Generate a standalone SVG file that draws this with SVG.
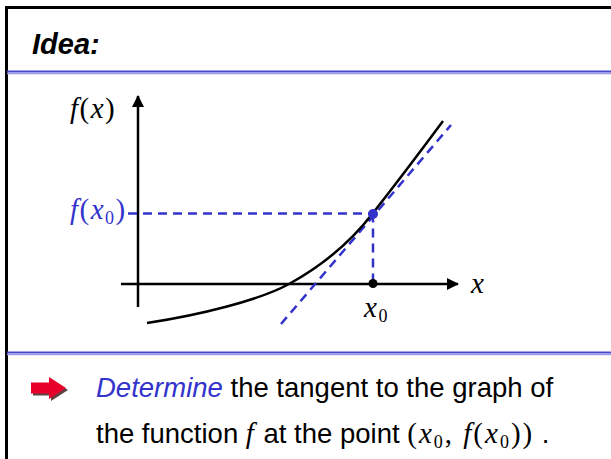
<svg xmlns="http://www.w3.org/2000/svg" width="611" height="459" viewBox="0 0 611 459">
<defs>
<style>
.frame{stroke:#000;stroke-width:3;fill:none}
.sep1{stroke:#4848cc;stroke-width:2}
.sep2{stroke:#9a9ae6;stroke-width:1.5}
.axis{stroke:#000;stroke-width:2.5;fill:none}
.dash{stroke:#3333cc;stroke-width:2.5;stroke-dasharray:9,6;fill:none}
.curve{stroke:#000;stroke-width:2.5;fill:none}
.math{font-family:"Liberation Serif",serif;font-style:italic;font-size:29px;letter-spacing:1.5px}
.m2{font-family:"Liberation Serif",serif;font-style:italic;font-size:29px;letter-spacing:2px}
.sub{font-family:"Liberation Serif",serif;font-style:normal;font-size:18px}
.up{font-style:normal}
.txt{font-family:"Liberation Sans",Arial,sans-serif;font-size:27.5px;fill:#000}
</style>
<marker id="ah" markerWidth="12" markerHeight="12" refX="11" refY="6" orient="auto" markerUnits="userSpaceOnUse">
<path d="M0,0 L12,6 L0,12 Z" fill="#000"/>
</marker>
</defs>
<rect width="611" height="459" fill="#fff"/>
<g id="frame">
<path class="frame" d="M6.5,459 V7.5 H611"/>
<line class="sep1" x1="7" y1="71.5" x2="611" y2="71.5"/>
<line class="sep2" x1="7" y1="73.5" x2="611" y2="73.5"/>
<line class="sep1" x1="7" y1="352.5" x2="611" y2="352.5"/>
<line class="sep2" x1="7" y1="354.5" x2="611" y2="354.5"/>
</g>
<g id="title">
<text x="32" y="54" font-family="Liberation Sans,Arial,sans-serif" font-weight="bold" font-style="italic" font-size="29" fill="#000">Idea:</text>
</g>
<g id="connectors">
<line class="axis" x1="138" y1="307" x2="138" y2="96" marker-end="url(#ah)"/>
<line class="axis" x1="121" y1="284" x2="458" y2="284" marker-end="url(#ah)"/>
<line class="dash" x1="128" y1="213.5" x2="373" y2="213.5"/>
<line class="dash" x1="373" y1="213.5" x2="373" y2="284"/>
<line class="dash" x1="281" y1="324" x2="451" y2="125"/>
<path class="curve" d="M147,323 C200,315 260,300 289,284 C320,267 350,243 373,213 C395,185 420,152 443,121"/>
</g>
<g id="points">
<circle cx="373" cy="214" r="5" fill="#3333cc"/>
<circle cx="373" cy="283.5" r="4.5" fill="#000"/>
</g>
<g id="labels">
<text class="math" x="70" y="118">f<tspan class="up">(</tspan>x<tspan class="up">)</tspan></text>
<text class="math" x="70" y="219" fill="#3333cc">f<tspan class="up">(</tspan>x<tspan class="sub" dy="5">0</tspan><tspan class="up" dy="-5">)</tspan></text>
<text class="math" x="471" y="293">x</text>
<text class="math" x="364" y="317">x<tspan class="sub" dy="5">0</tspan></text>
</g>
<g id="bullet">
<path d="M33,384.5 H51 V379 L68,390 L51,401 V395.5 H33 Z" fill="#3a1010" opacity="0.8"/>
<path d="M31,382.5 H49 V377 L66,388 L49,399 V393.5 H31 Z" fill="#e8002a"/>
</g>
<g id="text">
<text class="txt" x="96" y="397"><tspan fill="#3333cc" font-style="italic">Determine</tspan> the tangent to the graph of</text>
<text class="txt" x="96" y="443">the function <tspan class="m2">f</tspan> at the point  <tspan class="m2"><tspan class="up">(</tspan>x<tspan class="sub" dy="5">0</tspan><tspan class="up" dy="-5">, </tspan>f<tspan class="up">(</tspan>x<tspan class="sub" dy="5">0</tspan><tspan class="up" dy="-5">))</tspan></tspan> .</text>
</g>
</svg>
